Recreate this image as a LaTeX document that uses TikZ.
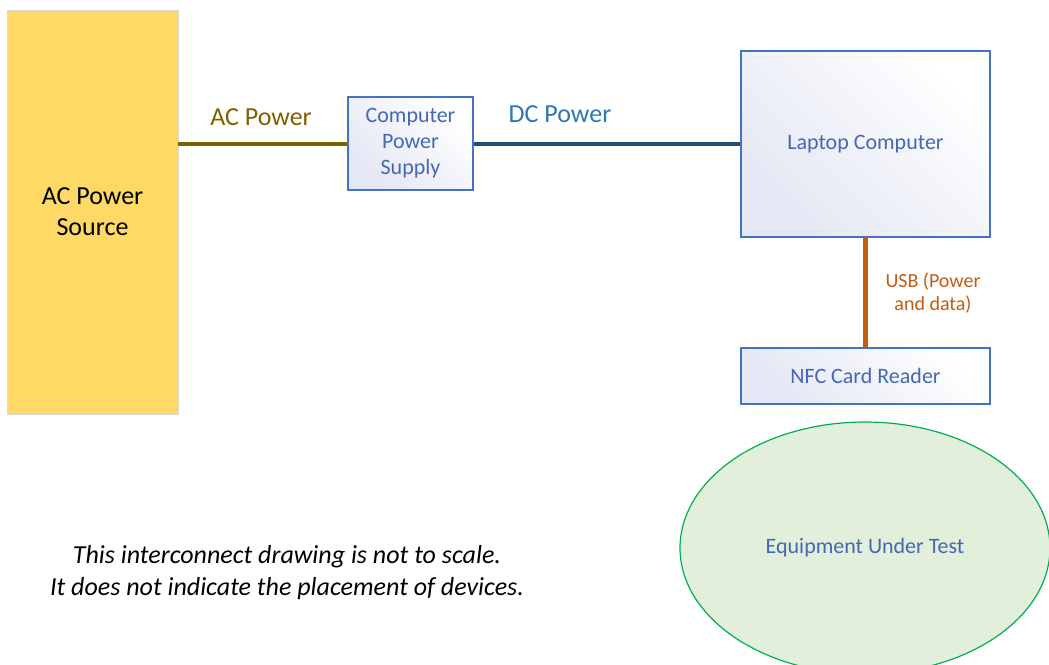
\documentclass[tikz,border=0pt]{standalone}
\usepackage{fontspec}
\setmainfont{Carlito}
\usetikzlibrary{shapes.geometric}
\definecolor{acyellow}{HTML}{FFD966}
\definecolor{acbrown}{HTML}{7F6000}
\definecolor{dcdark}{HTML}{1F4E79}
\definecolor{dclabel}{HTML}{2E75B6}
\definecolor{boxblue}{HTML}{4472C4}
\definecolor{txtblue}{HTML}{4468B4}
\definecolor{usborange}{HTML}{C55A11}
\definecolor{eutfill}{HTML}{E2EFDA}
\definecolor{eutedge}{HTML}{00B050}
\definecolor{shadelav}{HTML}{E4E7F4}
\tikzset{
  bluebox/.style={draw=boxblue, line width=1.2pt, left color=shadelav, right color=white, shading angle=135,
    text=txtblue, align=center, inner sep=0pt},
  wire/.style={line width=4pt},
}
\begin{document}
\begin{tikzpicture}[x=1pt,y=-1pt]
\useasboundingbox (0,0) rectangle (1049,664);
\node[ellipse, draw=eutedge, line width=1.2pt, fill=eutfill, minimum width=370, minimum height=252, inner sep=0pt,
  text=txtblue, font=\fontsize{22}{26}\selectfont] (eut) at (865,548) {Equipment Under Test};
\node[draw=black!15, line width=0.8pt, fill=acyellow, minimum width=171, minimum height=404, inner sep=0pt,
  align=center, font=\fontsize{26}{31}\selectfont] (acsrc) at (92.5,212) {AC Power\\Source};
\node[bluebox, minimum width=125, minimum height=93, font=\fontsize{22}{26}\selectfont] (cps) at (410.5,143.5) {Computer\\Power\\Supply};
\node[bluebox, minimum width=249, minimum height=186, font=\fontsize{22}{26}\selectfont] (laptop) at (865.5,144) {Laptop Computer};
\node[bluebox, minimum width=249, minimum height=56, font=\fontsize{22}{26}\selectfont] (nfc) at (865.5,376) {NFC Card Reader};
\draw[wire, acbrown] (acsrc.east |- cps.west) -- (cps.west);
\draw[wire, dcdark] (cps.east) -- (laptop.west |- cps.east);
\draw[wire, usborange, line width=5pt] (laptop.south) -- (nfc.north);
\node[text=acbrown, font=\fontsize{26}{31}\selectfont] (aclbl) at (261,117) {AC Power};
\node[text=dclabel, font=\fontsize{26}{31}\selectfont] (dclbl) at (560,114) {DC Power};
\node[text=usborange, align=center, font=\fontsize{20}{23}\selectfont] (usblbl) at (933,293) {USB (Power\\and data)};
\node[align=center, font=\fontsize{26}{32}\selectfont\itshape] (note) at (287,573)
  {This interconnect drawing is not to scale.\\It does not indicate the placement of devices.};
\end{tikzpicture}
\end{document}
